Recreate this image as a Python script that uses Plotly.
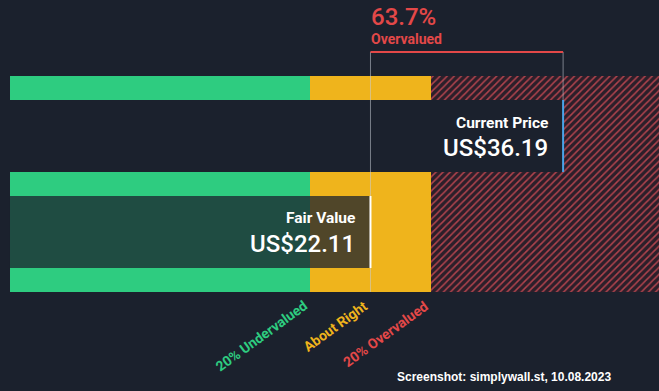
import plotly.graph_objects as go

# ---- data ----
fair_value = 22.11
current_price = 36.19
band_pct = 0.20
diff_label = "63.7%"
diff_word = "Overvalued"
zone_labels = ["20% Undervalued", "About Right", "20% Overvalued"]
footer = "Screenshot: simplywall.st, 10.08.2023"

# ---- style ----
BG = "#1b212d"
GREEN = "#2ecc80"
YELLOW = "#efb41c"
RED = "#e34848"
BLUE = "#4aa3e8"

under = fair_value * (1 - band_pct)
over = fair_value * (1 + band_pct)
x_range = [-4.97, 43.2]
bar_start = -4.24
x_end = x_range[1] + 2

fig = go.Figure()

row_y = [88, 232]
row_w = [24, 120]
fig.add_trace(go.Bar(orientation="h", y=row_y, x=[under - bar_start] * 2, base=[bar_start] * 2,
                     width=row_w, marker=dict(color=GREEN, line=dict(width=0)), hoverinfo="skip"))
fig.add_trace(go.Bar(orientation="h", y=row_y, x=[over - under] * 2, base=[under] * 2,
                     width=row_w, marker=dict(color=YELLOW, line=dict(width=0)), hoverinfo="skip"))
fig.add_trace(go.Bar(orientation="h", y=[184], x=[x_end - over], base=[over], width=[216],
                     marker=dict(color="#2c1f2a", line=dict(width=0),
                                 pattern=dict(shape="/", fgcolor="#b0434d", bgcolor="#2c1f2a",
                                              size=5, solidity=0.3, fillmode="replace")),
                     hoverinfo="skip"))

GREY = "rgba(200,205,215,0.55)"
shapes = [
    dict(type="rect", xref="x", yref="y", x0=fair_value, x1=current_price, y0=100, y1=172,
         fillcolor=BG, line=dict(width=0), layer="above"),
    dict(type="line", xref="x", yref="y", x0=current_price, x1=current_price, y0=100, y1=172,
         line=dict(color=BLUE, width=2), layer="above"),
    dict(type="rect", xref="x", yref="y", x0=bar_start, x1=fair_value, y0=196, y1=268,
         fillcolor="rgba(27,33,45,0.75)", line=dict(width=0), layer="above"),
    dict(type="line", xref="x", yref="y", x0=fair_value, x1=fair_value, y0=52, y1=292,
         line=dict(color=GREY, width=1), layer="above"),
    dict(type="line", xref="x", yref="y", x0=current_price, x1=current_price, y0=52, y1=100,
         line=dict(color=GREY, width=1), layer="above"),
    dict(type="line", xref="x", yref="y", x0=fair_value, x1=fair_value, y0=196, y1=268,
         line=dict(color="#ffffff", width=2), layer="above"),
    dict(type="line", xref="x", yref="y", x0=fair_value, x1=current_price, y0=52, y1=52,
         line=dict(color=RED, width=2), layer="above"),
]

ann = []
ann.append(dict(x=fair_value, y=17, xref="x", yref="y", text=diff_label, showarrow=False,
                xanchor="left", yanchor="middle", xshift=-1,
                font=dict(family="Roboto", size=24, color=RED, weight=500)))
ann.append(dict(x=fair_value, y=39, xref="x", yref="y", text=diff_word, showarrow=False,
                xanchor="left", yanchor="middle", xshift=-1,
                font=dict(family="Roboto", size=14, color=RED, weight="bold")))
ann.append(dict(x=current_price, y=123, xref="x", yref="y", text="Current Price", showarrow=False,
                xanchor="right", yanchor="middle", xshift=-13,
                font=dict(family="Roboto", size=15.5, color="white", weight="bold")))
ann.append(dict(x=current_price, y=148, xref="x", yref="y", text=f"US${current_price:.2f}",
                showarrow=False, xanchor="right", yanchor="middle", xshift=-13,
                font=dict(family="Roboto", size=24, color="white", weight=500)))
ann.append(dict(x=fair_value, y=218, xref="x", yref="y", text="Fair Value", showarrow=False,
                xanchor="right", yanchor="middle", xshift=-13,
                font=dict(family="Roboto", size=15.5, color="white", weight="bold")))
ann.append(dict(x=fair_value, y=244, xref="x", yref="y", text=f"US${fair_value:.2f}",
                showarrow=False, xanchor="right", yanchor="middle", xshift=-13,
                font=dict(family="Roboto", size=24, color="white", weight=500)))
for xv, lab, col in zip([under, fair_value, over], zone_labels, [GREEN, YELLOW, RED]):
    ann.append(dict(x=xv, y=295, xref="x", yref="y", text=lab, showarrow=False,
                    xanchor="right", yanchor="top", textangle=-36, xshift=3,
                    font=dict(family="Roboto", size=14, color=col, weight="bold")))
ann.append(dict(x=613 / 659, y=377, xref="paper", yref="y", text=footer, showarrow=False,
                xanchor="right", yanchor="middle",
                font=dict(family="Liberation Sans", size=12, color="white", weight="bold")))

fig.update_layout(
    width=659, height=391, margin=dict(l=0, r=0, t=0, b=0),
    paper_bgcolor=BG, plot_bgcolor=BG, barmode="overlay", bargap=0,
    showlegend=False, shapes=shapes, annotations=ann,
    xaxis=dict(range=x_range, visible=False, fixedrange=True),
    yaxis=dict(range=[391, 0], visible=False, fixedrange=True),
)
fig.write_html("out.html", config={"displayModeBar": False},
               post_script="document.body.style.margin='0';document.body.style.background='#1b212d';")
